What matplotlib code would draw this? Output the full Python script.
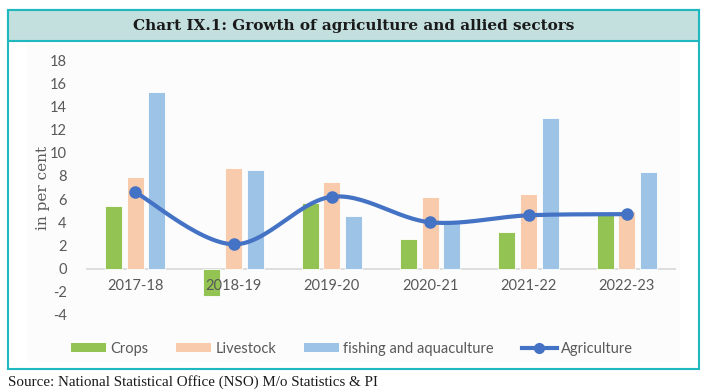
import numpy as np
import matplotlib.pyplot as plt
from matplotlib.patches import Rectangle
from matplotlib.lines import Line2D
from matplotlib.patches import Patch

years = ["2017-18", "2018-19", "2019-20", "2020-21", "2021-22", "2022-23"]
crops = [5.4, -2.4, 5.7, 2.6, 3.2, 4.7]
livestock = [7.9, 8.7, 7.5, 6.2, 6.4, 5.0]
fishing = [15.2, 8.5, 4.5, 3.9, 13.0, 8.3]
agriculture = [6.6, 2.1, 6.2, 4.0, 4.6, 4.7]
y_ticks = [-4, -2, 0, 2, 4, 6, 8, 10, 12, 14, 16, 18]

W, H = 715, 391
GREEN = "#92c353"
PEACH = "#f7cbac"
BLUE = "#9dc3e6"
LINE = "#4472c4"
TEAL = "#1fb8bf"
GRAY_TXT = "#595959"
SANS = "Lato"


def smooth_curve(x, y, n=30):
    """Excel-style smoothed line (Catmull-Rom as cubic Bezier)."""
    pts = np.column_stack([x, y]).astype(float)
    padded = np.vstack([pts[0], pts, pts[-1]])
    out = []
    t = np.linspace(0, 1, n)[:, None]
    for i in range(1, len(padded) - 2):
        p0, p1, p2, p3 = padded[i - 1], padded[i], padded[i + 1], padded[i + 2]
        c1 = p1 + (p2 - p0) / 6
        c2 = p2 - (p3 - p1) / 6
        seg = ((1 - t) ** 3) * p1 + 3 * ((1 - t) ** 2) * t * c1 \
            + 3 * (1 - t) * t ** 2 * c2 + t ** 3 * p2
        out.append(seg)
    seg = np.vstack(out)
    return seg[:, 0], seg[:, 1]


def px(x0, y0, x1, y1):
    # pixel box (top-left origin) -> figure fraction [l, b, w, h]
    return [x0 / W, 1 - y1 / H, (x1 - x0) / W, (y1 - y0) / H]


fig = plt.figure(figsize=(W / 100, H / 100), dpi=100)
fig.patch.set_facecolor("white")

# outer frame and title band
fig.patches.append(Rectangle((8 / W, 1 - 369 / H), 691 / W, 359 / H,
                             transform=fig.transFigure, facecolor="white",
                             edgecolor=TEAL, linewidth=1.5, zorder=-3))
fig.patches.append(Rectangle((27 / W, 1 - 362 / H), 653 / W, 318 / H,
                             transform=fig.transFigure, facecolor="#fcfcfc",
                             edgecolor="none", zorder=-2))
fig.patches.append(Rectangle((8 / W, 1 - 41 / H), 691 / W, 31 / H,
                             transform=fig.transFigure, facecolor="#c3dfde",
                             edgecolor=TEAL, linewidth=1.5, zorder=-1))

fig.text(354 / W, 1 - 26 / H, "Chart IX.1: Growth of agriculture and allied sectors",
         ha="center", va="center", fontsize=11, fontweight="bold",
         family="DejaVu Serif", color="#1a1a1a")
fig.text(8 / W, 1 - 382 / H, "Source: National Statistical Office (NSO) M/o Statistics & PI",
         ha="left", va="center", fontsize=10.8, family="Liberation Serif", color="#1a1a1a")

ax = fig.add_axes(px(86, 60, 676, 315))
ax.set_zorder(2)
ax.set_facecolor("none")
x = np.arange(len(years))
bw = 0.175
off = 0.22
ax.bar(x - off, crops, bw, color=GREEN, edgecolor="white", linewidth=0.6, zorder=2)
ax.bar(x, livestock, bw, color=PEACH, edgecolor="white", linewidth=0.6, zorder=2)
ax.bar(x + off, fishing, bw, color=BLUE, edgecolor="white", linewidth=0.6, zorder=2)

sx, sy = smooth_curve(x, agriculture)
ax.plot(sx, sy, color=LINE, linewidth=3, zorder=4, solid_capstyle="round")
ax.plot(x, agriculture, "o", color=LINE, markersize=8, zorder=5)

ax.axhline(0, color="#d9d9d9", linewidth=1.2, zorder=1)
ax.set_xlim(-0.5, len(years) - 0.5)
ax.set_ylim(-4, 18)
ax.set_yticks(y_ticks)
ax.set_yticklabels([str(v) for v in y_ticks], family=SANS, fontsize=10.5, color=GRAY_TXT)
ax.set_xticks([])
for i, yr in enumerate(years):
    ax.text(i, -1.5, yr, ha="center", va="center", family=SANS,
            fontsize=10.5, color=GRAY_TXT, zorder=6)
ax.tick_params(axis="y", length=0, pad=14)
for s in ax.spines.values():
    s.set_visible(False)
ax.set_ylabel("in per cent", family="DejaVu Serif", fontsize=11,
              color=GRAY_TXT, labelpad=0)

handles = [
    Patch(facecolor=GREEN, label="Crops"),
    Patch(facecolor=PEACH, label="Livestock"),
    Patch(facecolor=BLUE, label="fishing and aquaculture"),
    Line2D([], [], color=LINE, linewidth=3, marker="o", markersize=7, label="Agriculture"),
]
fig.legend(handles=handles, loc="center", bbox_to_anchor=(352 / W, 1 - 349 / H),
           ncol=4, frameon=False, prop={"family": SANS, "size": 10.5},
           labelcolor=GRAY_TXT, handlelength=2.4, handleheight=0.6,
           handletextpad=0.3, columnspacing=1.9)

fig.savefig("out.png", dpi=100)
